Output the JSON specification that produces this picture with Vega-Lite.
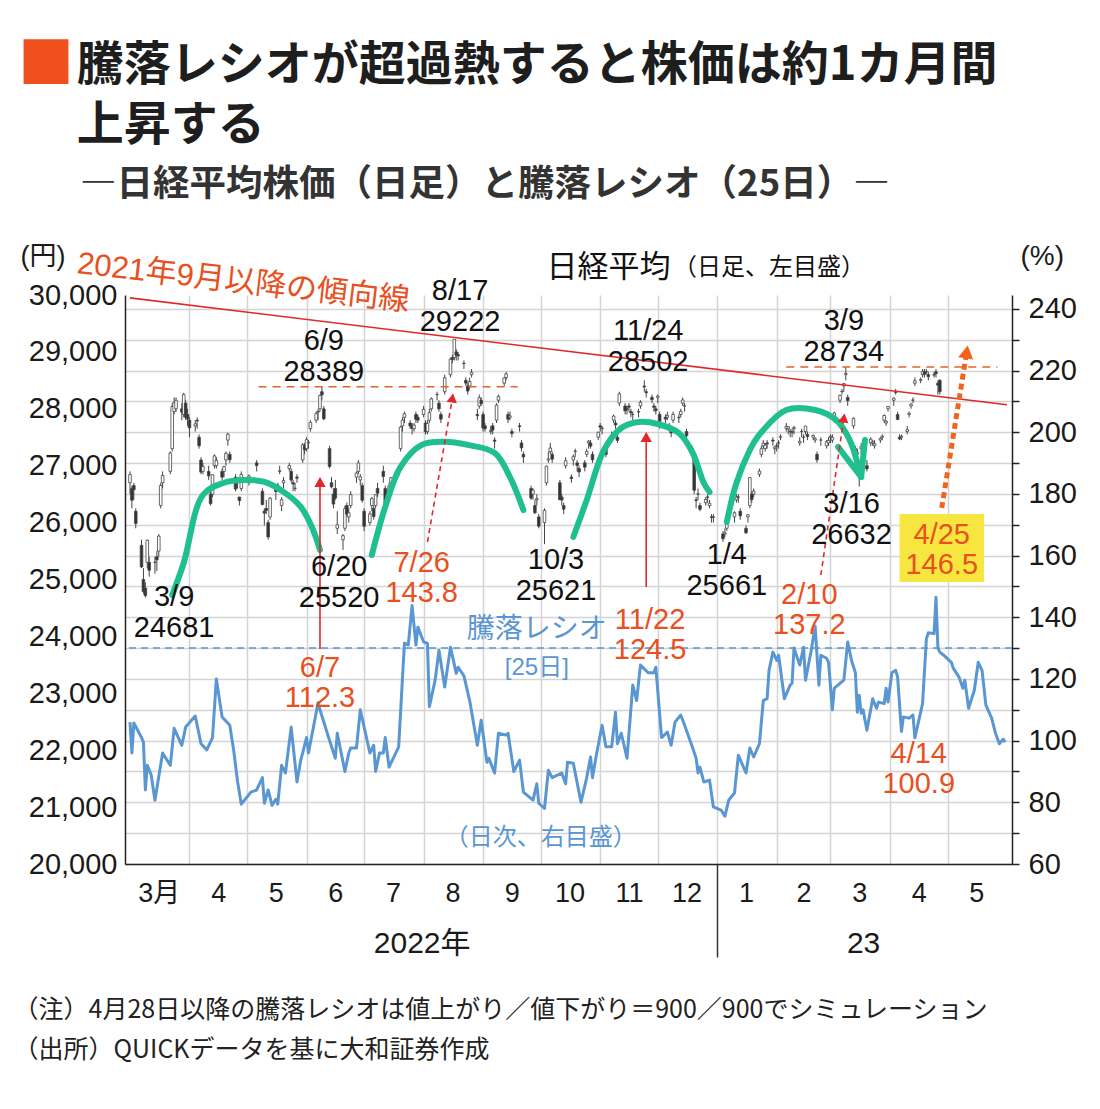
{
  "$schema": "https://vega.github.io/schema/vega-lite/v6.json",
  "width": 887,
  "height": 569,
  "autosize": {"type": "none"},
  "padding": {"left": 125, "top": 295, "right": 88, "bottom": 245},
  "background": "white",
  "config": {"view": {"stroke": null}, "font": "Liberation Sans, Noto Sans CJK JP"},
  "title": {
    "text": "■",
    "font": "Noto Sans CJK JP",
    "fontSize": 56,
    "fontWeight": "normal",
    "color": "#f0501e",
    "anchor": "start",
    "frame": "group",
    "dx": -107,
    "offset": 17,
    "subtitle": ["\u200B\u3000\u2005騰落レシオが超過熱すると株価は約1カ月間", "\u200B\u3000\u2005上昇する"],
    "subtitleFont": "Noto Sans CJK JP",
    "subtitleFontSize": 47,
    "subtitleFontWeight": "bold",
    "subtitleColor": "#1e1e1e",
    "subtitleLineHeight": 60,
    "subtitlePadding": -52
  },
  "resolve": {"scale": {"y": "independent"}, "axis": {"x": "independent", "y": "independent"}},
  "datasets": {
    "candles": [
      {"d":"2022-03-01","o":26700,"h":26900,"l":26500,"c":26844},
      {"d":"2022-03-02","o":26600,"h":26650,"l":26250,"c":26393},
      {"d":"2022-03-03","o":26650,"h":26700,"l":26400,"c":26577},
      {"d":"2022-03-04","o":26200,"h":26250,"l":25900,"c":25985},
      {"d":"2022-03-07","o":25600,"h":25700,"l":25200,"c":25221},
      {"d":"2022-03-08","o":25000,"h":25200,"l":24750,"c":24790},
      {"d":"2022-03-09","o":24850,"h":24950,"l":24681,"c":24717},
      {"d":"2022-03-10","o":25300,"h":25700,"l":25200,"c":25690},
      {"d":"2022-03-11","o":25300,"h":25400,"l":25050,"c":25163},
      {"d":"2022-03-14","o":25300,"h":25400,"l":25100,"c":25307},
      {"d":"2022-03-15","o":25400,"h":25500,"l":25150,"c":25346},
      {"d":"2022-03-16","o":25500,"h":25800,"l":25400,"c":25762},
      {"d":"2022-03-17","o":26300,"h":26700,"l":26250,"c":26652},
      {"d":"2022-03-18","o":26700,"h":26900,"l":26600,"c":26827},
      {"d":"2022-03-22","o":26900,"h":27250,"l":26850,"c":27224},
      {"d":"2022-03-23","o":27300,"h":28100,"l":27250,"c":28040},
      {"d":"2022-03-24","o":27950,"h":28200,"l":27900,"c":28110},
      {"d":"2022-03-25","o":28000,"h":28200,"l":27950,"c":28149},
      {"d":"2022-03-28","o":28000,"h":28100,"l":27800,"c":27943},
      {"d":"2022-03-29","o":27900,"h":28280,"l":27850,"c":28252},
      {"d":"2022-03-30","o":28100,"h":28150,"l":27800,"c":27850},
      {"d":"2022-03-31","o":27900,"h":28000,"l":27700,"c":27821},
      {"d":"2022-04-01","o":27800,"h":27850,"l":27500,"c":27665},
      {"d":"2022-04-04","o":27700,"h":27800,"l":27600,"c":27736},
      {"d":"2022-04-05","o":27800,"h":27850,"l":27650,"c":27787},
      {"d":"2022-04-06","o":27500,"h":27550,"l":27300,"c":27350},
      {"d":"2022-04-07","o":27100,"h":27150,"l":26850,"c":26888},
      {"d":"2022-04-08","o":26900,"h":27050,"l":26850,"c":26985},
      {"d":"2022-04-11","o":26900,"h":27000,"l":26750,"c":26821},
      {"d":"2022-04-12","o":26500,"h":26550,"l":26300,"c":26334},
      {"d":"2022-04-13","o":26500,"h":26850,"l":26450,"c":26843},
      {"d":"2022-04-14","o":27000,"h":27200,"l":26950,"c":27172},
      {"d":"2022-04-15","o":27000,"h":27150,"l":26950,"c":27093},
      {"d":"2022-04-18","o":26900,"h":26950,"l":26750,"c":26799},
      {"d":"2022-04-19","o":26900,"h":27000,"l":26800,"c":26985},
      {"d":"2022-04-20","o":27100,"h":27250,"l":27000,"c":27217},
      {"d":"2022-04-21","o":27450,"h":27580,"l":27350,"c":27553},
      {"d":"2022-04-22","o":27200,"h":27250,"l":27050,"c":27105},
      {"d":"2022-04-25","o":26800,"h":26850,"l":26550,"c":26590},
      {"d":"2022-04-26","o":26750,"h":26800,"l":26600,"c":26700},
      {"d":"2022-04-27","o":26450,"h":26450,"l":26300,"c":26386},
      {"d":"2022-04-28","o":26600,"h":26900,"l":26550,"c":26847},
      {"d":"2022-05-02","o":26700,"h":26850,"l":26650,"c":26818},
      {"d":"2022-05-06","o":27050,"h":27100,"l":26900,"c":27003},
      {"d":"2022-05-09","o":26550,"h":26600,"l":26300,"c":26319},
      {"d":"2022-05-10","o":26200,"h":26250,"l":25950,"c":26167},
      {"d":"2022-05-11","o":26250,"h":26400,"l":26150,"c":26213},
      {"d":"2022-05-12","o":26000,"h":26050,"l":25700,"c":25748},
      {"d":"2022-05-13","o":26100,"h":26450,"l":26050,"c":26427},
      {"d":"2022-05-16","o":26600,"h":26650,"l":26400,"c":26547},
      {"d":"2022-05-17","o":26650,"h":26700,"l":26550,"c":26659},
      {"d":"2022-05-18","o":26900,"h":27000,"l":26850,"c":26911},
      {"d":"2022-05-19","o":26300,"h":26450,"l":26200,"c":26402},
      {"d":"2022-05-20","o":26700,"h":26800,"l":26600,"c":26739},
      {"d":"2022-05-23","o":26950,"h":27050,"l":26900,"c":27001},
      {"d":"2022-05-24","o":26900,"h":26950,"l":26700,"c":26748},
      {"d":"2022-05-25","o":26700,"h":26750,"l":26550,"c":26677},
      {"d":"2022-05-26","o":26600,"h":26700,"l":26550,"c":26604},
      {"d":"2022-05-27","o":26800,"h":26850,"l":26700,"c":26781},
      {"d":"2022-05-30","o":27100,"h":27400,"l":27050,"c":27369},
      {"d":"2022-05-31","o":27350,"h":27400,"l":27200,"c":27279},
      {"d":"2022-06-01","o":27300,"h":27500,"l":27250,"c":27457},
      {"d":"2022-06-02","o":27400,"h":27450,"l":27300,"c":27413},
      {"d":"2022-06-03","o":27650,"h":27800,"l":27600,"c":27761},
      {"d":"2022-06-06","o":27800,"h":27950,"l":27750,"c":27915},
      {"d":"2022-06-07","o":27950,"h":28000,"l":27800,"c":27943},
      {"d":"2022-06-08","o":28000,"h":28250,"l":27950,"c":28234},
      {"d":"2022-06-09","o":28300,"h":28389,"l":28150,"c":28246},
      {"d":"2022-06-10","o":28000,"h":28050,"l":27800,"c":27824},
      {"d":"2022-06-13","o":27300,"h":27350,"l":26950,"c":26987},
      {"d":"2022-06-14","o":26700,"h":26800,"l":26600,"c":26629},
      {"d":"2022-06-15","o":26500,"h":26600,"l":26250,"c":26326},
      {"d":"2022-06-16","o":26600,"h":26750,"l":26400,"c":26431},
      {"d":"2022-06-17","o":25900,"h":26200,"l":25800,"c":25963},
      {"d":"2022-06-20","o":25700,"h":25800,"l":25520,"c":25771},
      {"d":"2022-06-21","o":25900,"h":26300,"l":25850,"c":26246},
      {"d":"2022-06-22","o":26300,"h":26350,"l":26100,"c":26149},
      {"d":"2022-06-23","o":26100,"h":26250,"l":26000,"c":26171},
      {"d":"2022-06-24","o":26300,"h":26550,"l":26250,"c":26491},
      {"d":"2022-06-27","o":26800,"h":26900,"l":26700,"c":26871},
      {"d":"2022-06-28","o":26900,"h":27100,"l":26850,"c":27049},
      {"d":"2022-06-29","o":26750,"h":26850,"l":26650,"c":26804},
      {"d":"2022-06-30","o":26650,"h":26700,"l":26350,"c":26393},
      {"d":"2022-07-01","o":26200,"h":26250,"l":25850,"c":25935},
      {"d":"2022-07-04","o":26000,"h":26200,"l":25950,"c":26153},
      {"d":"2022-07-05","o":26300,"h":26450,"l":26200,"c":26423},
      {"d":"2022-07-06","o":26250,"h":26300,"l":26050,"c":26107},
      {"d":"2022-07-07","o":26300,"h":26500,"l":26250,"c":26490},
      {"d":"2022-07-08","o":26600,"h":26700,"l":26450,"c":26517},
      {"d":"2022-07-11","o":26900,"h":27000,"l":26700,"c":26812},
      {"d":"2022-07-12","o":26600,"h":26650,"l":26300,"c":26336},
      {"d":"2022-07-13","o":26400,"h":26550,"l":26300,"c":26478},
      {"d":"2022-07-14","o":26500,"h":26700,"l":26400,"c":26643},
      {"d":"2022-07-15","o":26700,"h":26800,"l":26550,"c":26788},
      {"d":"2022-07-19","o":26900,"h":27000,"l":26800,"c":26961},
      {"d":"2022-07-20","o":27300,"h":27700,"l":27250,"c":27680},
      {"d":"2022-07-21","o":27700,"h":27850,"l":27600,"c":27803},
      {"d":"2022-07-22","o":27850,"h":27950,"l":27750,"c":27915},
      {"d":"2022-07-25","o":27750,"h":27800,"l":27650,"c":27699},
      {"d":"2022-07-26","o":27700,"h":27750,"l":27550,"c":27655},
      {"d":"2022-07-27","o":27650,"h":27750,"l":27600,"c":27715},
      {"d":"2022-07-28","o":27900,"h":27950,"l":27750,"c":27815},
      {"d":"2022-07-29","o":27850,"h":27900,"l":27750,"c":27801},
      {"d":"2022-08-01","o":27900,"h":28050,"l":27850,"c":27993},
      {"d":"2022-08-02","o":27750,"h":27800,"l":27550,"c":27594},
      {"d":"2022-08-03","o":27600,"h":27800,"l":27550,"c":27742},
      {"d":"2022-08-04","o":27800,"h":28000,"l":27750,"c":27932},
      {"d":"2022-08-05","o":28000,"h":28200,"l":27950,"c":28175},
      {"d":"2022-08-08","o":28250,"h":28300,"l":28150,"c":28249},
      {"d":"2022-08-09","o":28100,"h":28150,"l":27950,"c":27999},
      {"d":"2022-08-10","o":27900,"h":27950,"l":27750,"c":27819},
      {"d":"2022-08-12","o":28300,"h":28600,"l":28250,"c":28546},
      {"d":"2022-08-15","o":28600,"h":28900,"l":28550,"c":28871},
      {"d":"2022-08-16","o":28900,"h":28950,"l":28800,"c":28868},
      {"d":"2022-08-17","o":28900,"h":29222,"l":28850,"c":29222},
      {"d":"2022-08-18","o":29000,"h":29050,"l":28850,"c":28942},
      {"d":"2022-08-19","o":28950,"h":29000,"l":28850,"c":28930},
      {"d":"2022-08-22","o":28800,"h":28850,"l":28700,"c":28794},
      {"d":"2022-08-23","o":28500,"h":28550,"l":28400,"c":28452},
      {"d":"2022-08-24","o":28400,"h":28450,"l":28250,"c":28313},
      {"d":"2022-08-25","o":28400,"h":28550,"l":28350,"c":28479},
      {"d":"2022-08-26","o":28600,"h":28700,"l":28550,"c":28641},
      {"d":"2022-08-29","o":27900,"h":28000,"l":27800,"c":27878},
      {"d":"2022-08-30","o":28050,"h":28250,"l":28000,"c":28195},
      {"d":"2022-08-31","o":28150,"h":28200,"l":28050,"c":28091},
      {"d":"2022-09-01","o":27900,"h":27950,"l":27600,"c":27661},
      {"d":"2022-09-02","o":27700,"h":27750,"l":27600,"c":27650},
      {"d":"2022-09-05","o":27600,"h":27700,"l":27550,"c":27619},
      {"d":"2022-09-06","o":27700,"h":27750,"l":27550,"c":27626},
      {"d":"2022-09-07","o":27450,"h":27500,"l":27300,"c":27430},
      {"d":"2022-09-08","o":27800,"h":28100,"l":27750,"c":28065},
      {"d":"2022-09-09","o":28150,"h":28250,"l":28100,"c":28214},
      {"d":"2022-09-12","o":28450,"h":28550,"l":28400,"c":28542},
      {"d":"2022-09-13","o":28550,"h":28650,"l":28500,"c":28614},
      {"d":"2022-09-14","o":27900,"h":27950,"l":27750,"c":27818},
      {"d":"2022-09-15","o":27850,"h":27950,"l":27800,"c":27875},
      {"d":"2022-09-16","o":27600,"h":27650,"l":27500,"c":27567},
      {"d":"2022-09-20","o":27700,"h":27750,"l":27600,"c":27688},
      {"d":"2022-09-21","o":27400,"h":27450,"l":27250,"c":27313},
      {"d":"2022-09-22","o":27200,"h":27250,"l":27050,"c":27153},
      {"d":"2022-09-26","o":26600,"h":26650,"l":26400,"c":26431},
      {"d":"2022-09-27","o":26500,"h":26600,"l":26400,"c":26571},
      {"d":"2022-09-28","o":26300,"h":26400,"l":26150,"c":26173},
      {"d":"2022-09-29","o":26400,"h":26500,"l":26300,"c":26422},
      {"d":"2022-09-30","o":26100,"h":26150,"l":25900,"c":25937},
      {"d":"2022-10-03","o":26000,"h":26250,"l":25621,"c":26215},
      {"d":"2022-10-04","o":26700,"h":27000,"l":26650,"c":26992},
      {"d":"2022-10-05","o":27100,"h":27250,"l":27050,"c":27120},
      {"d":"2022-10-06","o":27250,"h":27400,"l":27200,"c":27311},
      {"d":"2022-10-07","o":27200,"h":27250,"l":27050,"c":27116},
      {"d":"2022-10-11","o":26700,"h":26750,"l":26400,"c":26401},
      {"d":"2022-10-12","o":26450,"h":26500,"l":26300,"c":26397},
      {"d":"2022-10-13","o":26300,"h":26350,"l":26150,"c":26237},
      {"d":"2022-10-14","o":27000,"h":27150,"l":26950,"c":27090},
      {"d":"2022-10-17","o":26800,"h":26850,"l":26700,"c":26775},
      {"d":"2022-10-18","o":27100,"h":27200,"l":27000,"c":27156},
      {"d":"2022-10-19","o":27250,"h":27300,"l":27150,"c":27257},
      {"d":"2022-10-20","o":27050,"h":27100,"l":26900,"c":27006},
      {"d":"2022-10-21","o":26950,"h":27000,"l":26800,"c":26890},
      {"d":"2022-10-24","o":27050,"h":27100,"l":26900,"c":26974},
      {"d":"2022-10-25","o":27200,"h":27300,"l":27150,"c":27250},
      {"d":"2022-10-26","o":27400,"h":27450,"l":27300,"c":27431},
      {"d":"2022-10-27","o":27400,"h":27450,"l":27300,"c":27345},
      {"d":"2022-10-28","o":27200,"h":27250,"l":27050,"c":27105},
      {"d":"2022-10-31","o":27500,"h":27600,"l":27450,"c":27587},
      {"d":"2022-11-01","o":27700,"h":27750,"l":27600,"c":27678},
      {"d":"2022-11-02","o":27650,"h":27700,"l":27550,"c":27663},
      {"d":"2022-11-04","o":27300,"h":27350,"l":27150,"c":27199},
      {"d":"2022-11-07","o":27500,"h":27600,"l":27400,"c":27527},
      {"d":"2022-11-08","o":27800,"h":27900,"l":27750,"c":27872},
      {"d":"2022-11-09","o":27750,"h":27800,"l":27650,"c":27716},
      {"d":"2022-11-10","o":27500,"h":27550,"l":27400,"c":27446},
      {"d":"2022-11-11","o":28100,"h":28300,"l":28050,"c":28263},
      {"d":"2022-11-14","o":28050,"h":28100,"l":27900,"c":27963},
      {"d":"2022-11-15","o":28000,"h":28050,"l":27900,"c":27990},
      {"d":"2022-11-16","o":28050,"h":28100,"l":27950,"c":28028},
      {"d":"2022-11-17","o":27950,"h":28000,"l":27850,"c":27930},
      {"d":"2022-11-18","o":27900,"h":27950,"l":27800,"c":27899},
      {"d":"2022-11-21","o":27950,"h":28000,"l":27850,"c":27944},
      {"d":"2022-11-22","o":28050,"h":28150,"l":28000,"c":28115},
      {"d":"2022-11-24","o":28400,"h":28502,"l":28300,"c":28383},
      {"d":"2022-11-25","o":28300,"h":28350,"l":28200,"c":28283},
      {"d":"2022-11-28","o":28200,"h":28250,"l":28100,"c":28162},
      {"d":"2022-11-29","o":28050,"h":28100,"l":27950,"c":28027},
      {"d":"2022-11-30","o":28000,"h":28050,"l":27900,"c":27968},
      {"d":"2022-12-01","o":28200,"h":28250,"l":28100,"c":28226},
      {"d":"2022-12-02","o":27900,"h":27950,"l":27650,"c":27777},
      {"d":"2022-12-05","o":27850,"h":27900,"l":27750,"c":27820},
      {"d":"2022-12-06","o":27850,"h":27950,"l":27800,"c":27885},
      {"d":"2022-12-07","o":27700,"h":27750,"l":27600,"c":27686},
      {"d":"2022-12-08","o":27600,"h":27650,"l":27500,"c":27574},
      {"d":"2022-12-09","o":27800,"h":27950,"l":27750,"c":27901},
      {"d":"2022-12-12","o":27850,"h":27900,"l":27750,"c":27842},
      {"d":"2022-12-13","o":27900,"h":28000,"l":27850,"c":27954},
      {"d":"2022-12-14","o":28100,"h":28200,"l":28050,"c":28156},
      {"d":"2022-12-15","o":28050,"h":28100,"l":27950,"c":28051},
      {"d":"2022-12-16","o":27600,"h":27650,"l":27450,"c":27527},
      {"d":"2022-12-19","o":27300,"h":27350,"l":27150,"c":27237},
      {"d":"2022-12-20","o":27200,"h":27250,"l":26500,"c":26568},
      {"d":"2022-12-21","o":26400,"h":26450,"l":26250,"c":26387},
      {"d":"2022-12-22","o":26500,"h":26600,"l":26400,"c":26507},
      {"d":"2022-12-23","o":26300,"h":26350,"l":26200,"c":26235},
      {"d":"2022-12-26","o":26350,"h":26450,"l":26300,"c":26405},
      {"d":"2022-12-27","o":26450,"h":26500,"l":26350,"c":26447},
      {"d":"2022-12-28","o":26300,"h":26400,"l":26250,"c":26340},
      {"d":"2022-12-29","o":26100,"h":26150,"l":26000,"c":26093},
      {"d":"2022-12-30","o":26100,"h":26150,"l":26000,"c":26094},
      {"d":"2023-01-04","o":25800,"h":25850,"l":25661,"c":25716},
      {"d":"2023-01-05","o":25800,"h":25900,"l":25750,"c":25820},
      {"d":"2023-01-06","o":25900,"h":26000,"l":25850,"c":25973},
      {"d":"2023-01-10","o":26100,"h":26200,"l":26000,"c":26175},
      {"d":"2023-01-11","o":26400,"h":26500,"l":26350,"c":26446},
      {"d":"2023-01-12","o":26450,"h":26500,"l":26350,"c":26449},
      {"d":"2023-01-13","o":26200,"h":26250,"l":26050,"c":26119},
      {"d":"2023-01-16","o":25900,"h":25950,"l":25800,"c":25822},
      {"d":"2023-01-17","o":26100,"h":26150,"l":26000,"c":26138},
      {"d":"2023-01-18","o":26300,"h":26800,"l":26250,"c":26791},
      {"d":"2023-01-19","o":26500,"h":26550,"l":26350,"c":26405},
      {"d":"2023-01-20","o":26500,"h":26600,"l":26450,"c":26553},
      {"d":"2023-01-23","o":26850,"h":26950,"l":26800,"c":26906},
      {"d":"2023-01-24","o":27200,"h":27350,"l":27150,"c":27299},
      {"d":"2023-01-25","o":27350,"h":27450,"l":27300,"c":27395},
      {"d":"2023-01-26","o":27300,"h":27400,"l":27250,"c":27362},
      {"d":"2023-01-27","o":27400,"h":27450,"l":27300,"c":27382},
      {"d":"2023-01-30","o":27450,"h":27500,"l":27350,"c":27433},
      {"d":"2023-01-31","o":27300,"h":27350,"l":27200,"c":27327},
      {"d":"2023-02-01","o":27350,"h":27400,"l":27250,"c":27346},
      {"d":"2023-02-02","o":27400,"h":27450,"l":27300,"c":27402},
      {"d":"2023-02-03","o":27500,"h":27550,"l":27450,"c":27509},
      {"d":"2023-02-06","o":27650,"h":27750,"l":27600,"c":27693},
      {"d":"2023-02-07","o":27650,"h":27700,"l":27550,"c":27685},
      {"d":"2023-02-08","o":27600,"h":27650,"l":27500,"c":27606},
      {"d":"2023-02-09","o":27600,"h":27650,"l":27500,"c":27584},
      {"d":"2023-02-10","o":27650,"h":27700,"l":27550,"c":27670},
      {"d":"2023-02-13","o":27400,"h":27500,"l":27350,"c":27427},
      {"d":"2023-02-14","o":27600,"h":27650,"l":27500,"c":27602},
      {"d":"2023-02-15","o":27500,"h":27550,"l":27400,"c":27501},
      {"d":"2023-02-16","o":27600,"h":27700,"l":27550,"c":27696},
      {"d":"2023-02-17","o":27550,"h":27600,"l":27450,"c":27513},
      {"d":"2023-02-20","o":27500,"h":27550,"l":27450,"c":27531},
      {"d":"2023-02-21","o":27450,"h":27500,"l":27400,"c":27473},
      {"d":"2023-02-22","o":27200,"h":27250,"l":27050,"c":27104},
      {"d":"2023-02-24","o":27450,"h":27500,"l":27350,"c":27453},
      {"d":"2023-02-27","o":27350,"h":27450,"l":27300,"c":27423},
      {"d":"2023-02-28","o":27400,"h":27500,"l":27350,"c":27445},
      {"d":"2023-03-01","o":27500,"h":27550,"l":27400,"c":27516},
      {"d":"2023-03-02","o":27450,"h":27550,"l":27400,"c":27498},
      {"d":"2023-03-03","o":27800,"h":27950,"l":27750,"c":27927},
      {"d":"2023-03-06","o":28150,"h":28250,"l":28100,"c":28237},
      {"d":"2023-03-07","o":28300,"h":28350,"l":28250,"c":28309},
      {"d":"2023-03-08","o":28400,"h":28450,"l":28300,"c":28444},
      {"d":"2023-03-09","o":28600,"h":28734,"l":28500,"c":28623},
      {"d":"2023-03-10","o":28200,"h":28250,"l":28050,"c":28143},
      {"d":"2023-03-13","o":27700,"h":27850,"l":27650,"c":27832},
      {"d":"2023-03-14","o":27300,"h":27350,"l":27000,"c":27222},
      {"d":"2023-03-15","o":27200,"h":27300,"l":27100,"c":27229},
      {"d":"2023-03-16","o":26900,"h":27050,"l":26632,"c":27010},
      {"d":"2023-03-17","o":27300,"h":27400,"l":27200,"c":27333},
      {"d":"2023-03-20","o":27000,"h":27100,"l":26900,"c":26945},
      {"d":"2023-03-22","o":27400,"h":27500,"l":27350,"c":27466},
      {"d":"2023-03-23","o":27400,"h":27450,"l":27350,"c":27419},
      {"d":"2023-03-24","o":27350,"h":27450,"l":27300,"c":27385},
      {"d":"2023-03-27","o":27450,"h":27500,"l":27400,"c":27476},
      {"d":"2023-03-28","o":27500,"h":27550,"l":27450,"c":27518},
      {"d":"2023-03-29","o":27800,"h":27900,"l":27750,"c":27883},
      {"d":"2023-03-30","o":27750,"h":27800,"l":27700,"c":27782},
      {"d":"2023-03-31","o":28000,"h":28050,"l":27950,"c":28041},
      {"d":"2023-04-03","o":28150,"h":28200,"l":28050,"c":28188},
      {"d":"2023-04-04","o":28300,"h":28350,"l":28250,"c":28287},
      {"d":"2023-04-05","o":27900,"h":27950,"l":27800,"c":27813},
      {"d":"2023-04-06","o":27500,"h":27550,"l":27450,"c":27472},
      {"d":"2023-04-07","o":27500,"h":27550,"l":27450,"c":27518},
      {"d":"2023-04-10","o":27600,"h":27700,"l":27550,"c":27633},
      {"d":"2023-04-11","o":27900,"h":27950,"l":27850,"c":27923},
      {"d":"2023-04-12","o":28050,"h":28100,"l":28000,"c":28082},
      {"d":"2023-04-13","o":28150,"h":28200,"l":28100,"c":28156},
      {"d":"2023-04-14","o":28450,"h":28550,"l":28400,"c":28493},
      {"d":"2023-04-17","o":28500,"h":28550,"l":28450,"c":28514},
      {"d":"2023-04-18","o":28600,"h":28700,"l":28550,"c":28658},
      {"d":"2023-04-19","o":28650,"h":28700,"l":28550,"c":28606},
      {"d":"2023-04-20","o":28650,"h":28700,"l":28600,"c":28657},
      {"d":"2023-04-21","o":28600,"h":28650,"l":28500,"c":28564},
      {"d":"2023-04-24","o":28600,"h":28650,"l":28550,"c":28593},
      {"d":"2023-04-25","o":28650,"h":28700,"l":28550,"c":28620},
      {"d":"2023-04-26","o":28450,"h":28500,"l":28250,"c":28416},
      {"d":"2023-04-27","o":28500,"h":28520,"l":28250,"c":28300}
    ],
    "ratio": [
      {"d":"2022-03-01","v":106},{"d":"2022-03-02","v":96},{"d":"2022-03-03","v":105.7},{"d":"2022-03-07","v":101},
      {"d":"2022-03-08","v":99.5},{"d":"2022-03-09","v":84},{"d":"2022-03-10","v":92},{"d":"2022-03-12","v":89},
      {"d":"2022-03-14","v":80.7},{"d":"2022-03-18","v":96},{"d":"2022-03-22","v":92},{"d":"2022-03-24","v":104},
      {"d":"2022-03-28","v":98.5},{"d":"2022-03-30","v":104.4},{"d":"2022-04-04","v":108},{"d":"2022-04-07","v":99},
      {"d":"2022-04-10","v":97},{"d":"2022-04-13","v":101},{"d":"2022-04-15","v":120},{"d":"2022-04-18","v":107.7},
      {"d":"2022-04-22","v":105},{"d":"2022-04-24","v":97},{"d":"2022-04-26","v":87},{"d":"2022-04-28","v":79.4},
      {"d":"2022-05-03","v":83.3},{"d":"2022-05-06","v":84},{"d":"2022-05-09","v":88},{"d":"2022-05-10","v":79.7},
      {"d":"2022-05-12","v":84},{"d":"2022-05-14","v":79},{"d":"2022-05-16","v":81},{"d":"2022-05-17","v":79.4},
      {"d":"2022-05-19","v":92},{"d":"2022-05-21","v":89.5},{"d":"2022-05-24","v":104.4},{"d":"2022-05-27","v":86.6},
      {"d":"2022-05-29","v":93.7},{"d":"2022-06-01","v":101},{"d":"2022-06-02","v":96},{"d":"2022-06-07","v":112.3},
      {"d":"2022-06-08","v":110},{"d":"2022-06-13","v":100},{"d":"2022-06-16","v":94.3},{"d":"2022-06-17","v":102.4},
      {"d":"2022-06-21","v":90},{"d":"2022-06-23","v":96},{"d":"2022-06-24","v":97.6},{"d":"2022-06-27","v":97.6},
      {"d":"2022-06-29","v":110},{"d":"2022-07-04","v":96},{"d":"2022-07-06","v":98.5},{"d":"2022-07-07","v":90},
      {"d":"2022-07-09","v":96},{"d":"2022-07-11","v":96},{"d":"2022-07-12","v":101},{"d":"2022-07-14","v":91.4},
      {"d":"2022-07-19","v":98},{"d":"2022-07-22","v":131.6},{"d":"2022-07-24","v":131},{"d":"2022-07-26","v":143.8},
      {"d":"2022-07-28","v":131},{"d":"2022-07-29","v":136.8},{"d":"2022-08-01","v":132},{"d":"2022-08-03","v":131.5},
      {"d":"2022-08-04","v":111},{"d":"2022-08-07","v":119.6},{"d":"2022-08-09","v":129.3},{"d":"2022-08-12","v":117.4},
      {"d":"2022-08-15","v":130.3},{"d":"2022-08-18","v":121.8},{"d":"2022-08-19","v":123.8},{"d":"2022-08-22","v":121},
      {"d":"2022-08-25","v":113},{"d":"2022-08-29","v":98.5},{"d":"2022-08-31","v":106.6},{"d":"2022-09-03","v":93},
      {"d":"2022-09-04","v":94.3},{"d":"2022-09-07","v":89.5},{"d":"2022-09-09","v":102.4},{"d":"2022-09-13","v":101.8},
      {"d":"2022-09-14","v":102.4},{"d":"2022-09-17","v":90},{"d":"2022-09-20","v":93.7},{"d":"2022-09-22","v":83.3},
      {"d":"2022-09-27","v":80.7},{"d":"2022-09-29","v":86},{"d":"2022-09-30","v":79.7},{"d":"2022-10-03","v":78},
      {"d":"2022-10-05","v":90.4},{"d":"2022-10-07","v":88},{"d":"2022-10-12","v":89.5},{"d":"2022-10-14","v":86},
      {"d":"2022-10-15","v":93},{"d":"2022-10-18","v":92.7},{"d":"2022-10-22","v":80},{"d":"2022-10-25","v":88},
      {"d":"2022-10-27","v":94.7},{"d":"2022-10-28","v":88},{"d":"2022-10-30","v":95.3},{"d":"2022-11-02","v":105},
      {"d":"2022-11-04","v":98},{"d":"2022-11-07","v":98},{"d":"2022-11-09","v":109.2},{"d":"2022-11-10","v":99},
      {"d":"2022-11-12","v":102.4},{"d":"2022-11-15","v":94.3},{"d":"2022-11-18","v":118},{"d":"2022-11-20","v":113},
      {"d":"2022-11-22","v":124.5},{"d":"2022-11-26","v":122},{"d":"2022-11-29","v":122},{"d":"2022-11-30","v":123.8},
      {"d":"2022-12-03","v":101},{"d":"2022-12-06","v":102.8},{"d":"2022-12-08","v":98.5},{"d":"2022-12-10","v":106},
      {"d":"2022-12-13","v":108.3},{"d":"2022-12-15","v":105},{"d":"2022-12-19","v":98},{"d":"2022-12-21","v":94.3},
      {"d":"2022-12-22","v":89.5},{"d":"2022-12-23","v":91.4},{"d":"2022-12-25","v":86.6},{"d":"2022-12-28","v":87.2},
      {"d":"2022-12-30","v":78.5},{"d":"2023-01-03","v":77.5},{"d":"2023-01-05","v":75.5},{"d":"2023-01-07","v":80.7},
      {"d":"2023-01-10","v":83},{"d":"2023-01-12","v":95.3},{"d":"2023-01-16","v":89.5},{"d":"2023-01-18","v":97.6},
      {"d":"2023-01-20","v":94.7},{"d":"2023-01-23","v":99},{"d":"2023-01-25","v":113},{"d":"2023-01-27","v":113.6},
      {"d":"2023-01-28","v":122.8},{"d":"2023-01-30","v":128.7},{"d":"2023-02-01","v":126},{"d":"2023-02-02","v":127.7},
      {"d":"2023-02-05","v":113.6},{"d":"2023-02-08","v":118},{"d":"2023-02-09","v":118.6},{"d":"2023-02-10","v":130},
      {"d":"2023-02-13","v":124.5},{"d":"2023-02-15","v":130.3},{"d":"2023-02-16","v":119.6},{"d":"2023-02-19","v":129.3},
      {"d":"2023-02-21","v":137.2},{"d":"2023-02-23","v":118},{"d":"2023-02-24","v":127.7},{"d":"2023-02-27","v":126.7},
      {"d":"2023-02-28","v":125.4},{"d":"2023-03-02","v":110},{"d":"2023-03-03","v":117},{"d":"2023-03-06","v":118.6},
      {"d":"2023-03-08","v":119.6},{"d":"2023-03-10","v":132},{"d":"2023-03-12","v":126},{"d":"2023-03-14","v":122},
      {"d":"2023-03-15","v":109.2},{"d":"2023-03-16","v":114.7},{"d":"2023-03-17","v":108.9},{"d":"2023-03-18","v":110},
      {"d":"2023-03-20","v":103.4},{"d":"2023-03-23","v":113.6},{"d":"2023-03-25","v":110.5},{"d":"2023-03-26","v":112.5},
      {"d":"2023-03-29","v":112},{"d":"2023-03-30","v":117},{"d":"2023-03-31","v":112.5},{"d":"2023-04-02","v":122},
      {"d":"2023-04-04","v":122.8},{"d":"2023-04-05","v":120.6},{"d":"2023-04-07","v":103},{"d":"2023-04-08","v":107.7},
      {"d":"2023-04-11","v":107.3},{"d":"2023-04-13","v":108.3},{"d":"2023-04-14","v":100.9},{"d":"2023-04-18","v":112},
      {"d":"2023-04-20","v":133},{"d":"2023-04-21","v":135},{"d":"2023-04-24","v":134.7},{"d":"2023-04-25","v":146.5},
      {"d":"2023-04-26","v":130},{"d":"2023-04-27","v":128.7},{"d":"2023-04-29","v":127.7},{"d":"2023-05-03","v":125.4},
      {"d":"2023-05-04","v":123.5},{"d":"2023-05-07","v":120.6},{"d":"2023-05-09","v":117},{"d":"2023-05-10","v":119.6},
      {"d":"2023-05-12","v":110.5},{"d":"2023-05-15","v":116.4},{"d":"2023-05-17","v":125.4},{"d":"2023-05-19","v":122.8},
      {"d":"2023-05-21","v":111.5},{"d":"2023-05-24","v":107.3},{"d":"2023-05-26","v":102.4},{"d":"2023-05-28","v":99},
      {"d":"2023-05-30","v":100.5},{"d":"2023-05-31","v":99.5}
    ],
    "arcs": [
      {"g":"a1","d":"2022-03-23","v":24728},{"g":"a1","d":"2022-03-29","v":25290},{"g":"a1","d":"2022-04-08","v":26485},
      {"g":"a1","d":"2022-04-19","v":26700},{"g":"a1","d":"2022-04-29","v":26750},{"g":"a1","d":"2022-05-10","v":26715},
      {"g":"a1","d":"2022-05-20","v":26540},{"g":"a1","d":"2022-05-29","v":26275},{"g":"a1","d":"2022-06-04","v":25905},
      {"g":"a1","d":"2022-06-08","v":25520},
      {"g":"a2","d":"2022-07-05","v":25430},{"g":"a2","d":"2022-07-12","v":26275},{"g":"a2","d":"2022-07-20","v":26980},
      {"g":"a2","d":"2022-07-31","v":27365},{"g":"a2","d":"2022-08-12","v":27420},{"g":"a2","d":"2022-08-24","v":27365},
      {"g":"a2","d":"2022-09-07","v":27225},{"g":"a2","d":"2022-09-15","v":26800},{"g":"a2","d":"2022-09-22","v":26220},
      {"g":"a3","d":"2022-10-18","v":25747},{"g":"a3","d":"2022-10-25","v":26397},{"g":"a3","d":"2022-11-03","v":27276},
      {"g":"a3","d":"2022-11-12","v":27663},{"g":"a3","d":"2022-11-21","v":27768},{"g":"a3","d":"2022-12-01","v":27733},
      {"g":"a3","d":"2022-12-12","v":27575},{"g":"a3","d":"2022-12-19","v":27241},{"g":"a3","d":"2022-12-25","v":26696},
      {"g":"a3","d":"2022-12-28","v":26538},
      {"g":"a4","d":"2023-01-06","v":26011},{"g":"a4","d":"2023-01-11","v":26696},{"g":"a4","d":"2023-01-18","v":27276},
      {"g":"a4","d":"2023-01-22","v":27504},{"g":"a4","d":"2023-02-06","v":27979},{"g":"a4","d":"2023-02-21","v":27979},
      {"g":"a4","d":"2023-03-04","v":27803},{"g":"a4","d":"2023-03-11","v":27452},{"g":"a4","d":"2023-03-17","v":26801},
      {"g":"h1","d":"2023-03-05","v":27329},{"g":"h1","d":"2023-03-17","v":26801},
      {"g":"h2","d":"2023-03-17","v":26801},{"g":"h2","d":"2023-03-19","v":27452}
    ]
  },
  "layer": [
    {
      "data": {"values": [{"d":"2023-04-06","d2":"2023-05-20","v":24956,"v2":26151}]},
      "mark": {"type": "rect", "color": "#f8e640"},
      "encoding": {
        "x": {"field": "d", "type": "temporal", "axis": null, "scale": {"type": "utc", "domain": [{"year":2022,"month":3,"date":1,"utc":true},{"year":2023,"month":6,"date":1,"utc":true}]}},
        "x2": {"field": "d2"},
        "y": {"field": "v", "type": "quantitative", "axis": null, "scale": {"domain": [20000, 30000], "nice": false, "zero": false}},
        "y2": {"field": "v2"}
      }
    },
    {
      "data": {"values": [{}]},
      "mark": {"type": "rule", "color": "#5a96d2", "strokeDash": [7, 5], "strokeWidth": 1.5},
      "encoding": {
        "y": {"datum": 130, "type": "quantitative", "axis": null, "scale": {"domain": [60, 244.5], "nice": false, "zero": false}}
      }
    },
    {
      "data": {"name": "ratio"},
      "mark": {"type": "line", "color": "#5a96d2", "strokeWidth": 3, "strokeJoin": "round"},
      "encoding": {
        "x": {"field": "d", "type": "temporal", "axis": null, "scale": {"type": "utc", "domain": [{"year":2022,"month":3,"date":1,"utc":true},{"year":2023,"month":6,"date":1,"utc":true}]}},
        "y": {"field": "v", "type": "quantitative", "scale": {"domain": [60, 244.5], "nice": false, "zero": false},
          "axis": {"orient": "right", "values": [60,70,80,90,100,110,120,130,140,150,160,170,180,190,200,210,220,230,240],
            "labelExpr": "datum.value % 20 == 0 ? datum.label : ''", "tickSize": 7, "tickColor": "#222", "tickWidth": 1.5,
            "domainColor": "#222", "domainWidth": 1.5, "grid": true, "gridColor": "#d4d4d4", "gridWidth": 1.5,
            "labelFontSize": 29, "labelColor": "#1a1a1a", "labelPadding": 9,
            "title": "(%)", "titleAngle": 0, "titleX": 8, "titleY": -39, "titleAlign": "left", "titleBaseline": "middle",
            "titleFontSize": 28, "titleFontWeight": "normal", "titleColor": "#1a1a1a"}}
      }
    },
    {
      "data": {"name": "candles"},
      "mark": {"type": "rule", "color": "#444", "strokeWidth": 1},
      "encoding": {
        "x": {"field": "d", "type": "temporal", "scale": {"type": "utc", "domain": [{"year":2022,"month":3,"date":1,"utc":true},{"year":2023,"month":6,"date":1,"utc":true}]},
          "axis": {"orient": "bottom", "values": [
            {"year":2022,"month":3,"date":16,"utc":true},{"year":2022,"month":4,"date":16,"utc":true},{"year":2022,"month":5,"date":16,"utc":true},
            {"year":2022,"month":6,"date":16,"utc":true},{"year":2022,"month":7,"date":16,"utc":true},{"year":2022,"month":8,"date":16,"utc":true},
            {"year":2022,"month":9,"date":16,"utc":true},{"year":2022,"month":10,"date":16,"utc":true},{"year":2022,"month":11,"date":16,"utc":true},
            {"year":2022,"month":12,"date":16,"utc":true},{"year":2023,"month":1,"date":16,"utc":true},{"year":2023,"month":2,"date":15,"utc":true},
            {"year":2023,"month":3,"date":16,"utc":true},{"year":2023,"month":4,"date":16,"utc":true},{"year":2023,"month":5,"date":16,"utc":true}],
            "labelExpr": "utcyear(datum.value) == 2022 && utcmonth(datum.value) == 2 ? '3月' : '' + (utcmonth(datum.value) + 1)",
            "ticks": false, "tickSize": 0, "grid": false, "domain": true, "domainColor": "#222", "domainWidth": 1.5,
            "labelFontSize": 27, "labelColor": "#1a1a1a", "labelPadding": 29, "labelBaseline": "middle",
            "labelFlush": false, "labelOverlap": false, "labelBound": false, "title": null}},
        "y": {"field": "l", "type": "quantitative", "scale": {"domain": [20000, 30000], "nice": false, "zero": false},
          "axis": {"orient": "left", "values": [20000,21000,22000,23000,24000,25000,26000,27000,28000,29000,30000],
            "format": ",.0f", "ticks": false, "tickSize": 0, "grid": false, "domainColor": "#222", "domainWidth": 1.5,
            "labelFontSize": 29, "labelColor": "#1a1a1a", "labelPadding": 8,
            "title": "(円)", "titleAngle": 0, "titleX": -105, "titleY": -39, "titleAlign": "left", "titleBaseline": "middle",
            "titleFontSize": 27, "titleFontWeight": "normal", "titleColor": "#1a1a1a"}},
        "y2": {"field": "h"}
      }
    },
    {
      "data": {"name": "candles"},
      "mark": {"type": "bar", "size": 2.6, "stroke": "#444", "strokeWidth": 0.8},
      "encoding": {
        "x": {"field": "d", "type": "temporal",
          "axis": {"orient": "bottom", "values": [
            {"year":2022,"month":4,"date":1,"utc":true},{"year":2022,"month":5,"date":1,"utc":true},{"year":2022,"month":6,"date":1,"utc":true},
            {"year":2022,"month":7,"date":1,"utc":true},{"year":2022,"month":8,"date":1,"utc":true},{"year":2022,"month":9,"date":1,"utc":true},
            {"year":2022,"month":10,"date":1,"utc":true},{"year":2022,"month":11,"date":1,"utc":true},{"year":2022,"month":12,"date":1,"utc":true},
            {"year":2023,"month":1,"date":1,"utc":true},{"year":2023,"month":2,"date":1,"utc":true},{"year":2023,"month":3,"date":1,"utc":true},
            {"year":2023,"month":4,"date":1,"utc":true},{"year":2023,"month":5,"date":1,"utc":true}],
            "grid": true, "gridColor": "#d4d4d4", "gridWidth": 1.5, "labels": false, "ticks": false, "domain": false, "title": null}},
        "y": {"field": "o", "type": "quantitative", "axis": null, "scale": {"domain": [20000, 30000], "nice": false, "zero": false}},
        "y2": {"field": "c"},
        "fill": {"condition": {"test": "datum.c >= datum.o", "value": "white"}, "value": "#333"}
      }
    },
    {
      "data": {"values": [{"d":"2022-03-01","v":29950,"d2":"2023-06-01","v2":28070}]},
      "mark": {"type": "rule", "color": "#e0282a", "strokeWidth": 1.6},
      "encoding": {
        "x": {"field": "d", "type": "temporal",
          "axis": {"orient": "bottom", "values": [{"year":2022,"month":7,"date":31,"utc":true},{"year":2023,"month":3,"date":18,"utc":true}],
            "labelExpr": "utcyear(datum.value) == 2022 ? '2022年' : '23'",
            "ticks": false, "tickSize": 0, "domain": false, "grid": false,
            "labelFontSize": 30, "labelColor": "#1a1a1a", "labelPadding": 79, "labelBaseline": "middle",
            "labelFlush": false, "labelOverlap": false, "labelBound": false,
            "title": ["（注）4月28日以降の騰落レシオは値上がり／値下がり＝900／900でシミュレーション", "（出所）QUICKデータを基に大和証券作成"],
            "titleX": -112, "titleY": 133, "titleAlign": "left", "titleAnchor": "start", "titleBaseline": "top",
            "titleFontSize": 25, "titleFontWeight": "normal", "titleLineHeight": 40, "titleColor": "#222",
            "titleFont": "Noto Sans CJK JP"}},
        "x2": {"field": "d2"},
        "y": {"field": "v", "type": "quantitative", "axis": null, "scale": {"domain": [20000, 30000], "nice": false, "zero": false}},
        "y2": {"field": "v2"}
      }
    },
    {
      "data": {"values": [{"d":"2022-05-07","d2":"2022-09-19","v":28389},{"d":"2023-02-06","d2":"2023-05-27","v":28734}]},
      "mark": {"type": "rule", "color": "#e8602a", "strokeWidth": 1.5, "strokeDash": [8, 6]},
      "encoding": {
        "x": {"field": "d", "type": "temporal",
          "axis": {"orient": "bottom", "values": [{"year":2023,"month":1,"date":1,"utc":true}],
            "ticks": true, "tickSize": 93, "tickColor": "#333", "tickWidth": 1.5, "labels": false, "domain": false, "grid": false, "title": null}},
        "x2": {"field": "d2"},
        "y": {"field": "v", "type": "quantitative", "axis": null, "scale": {"domain": [20000, 30000], "nice": false, "zero": false}}
      }
    },
    {
      "data": {"name": "arcs"},
      "mark": {"type": "line", "color": "#1fbf8f", "strokeWidth": 6, "strokeCap": "round", "strokeJoin": "round", "interpolate": "catmull-rom"},
      "encoding": {
        "x": {"field": "d", "type": "temporal", "axis": null},
        "y": {"field": "v", "type": "quantitative", "axis": null, "scale": {"domain": [20000, 30000], "nice": false, "zero": false}},
        "detail": {"field": "g"}
      }
    },
    {
      "data": {"values": [{"d":"2022-06-08","v":23778,"v2":26714},{"d":"2022-11-25","v":24868,"v2":27504}]},
      "mark": {"type": "rule", "color": "#e0282a", "strokeWidth": 1.6},
      "encoding": {
        "x": {"field": "d", "type": "temporal", "axis": null},
        "y": {"field": "v", "type": "quantitative", "axis": null, "scale": {"domain": [20000, 30000], "nice": false, "zero": false}},
        "y2": {"field": "v2"}
      }
    },
    {
      "data": {"values": [{"d":"2022-08-03","v":25659,"d2":"2022-08-16","v2":28190},{"d":"2023-02-24","v":25079,"d2":"2023-03-08","v2":27838}]},
      "mark": {"type": "rule", "color": "#e0282a", "strokeWidth": 1.6, "strokeDash": [5, 4]},
      "encoding": {
        "x": {"field": "d", "type": "temporal", "axis": null},
        "x2": {"field": "d2"},
        "y": {"field": "v", "type": "quantitative", "axis": null, "scale": {"domain": [20000, 30000], "nice": false, "zero": false}},
        "y2": {"field": "v2"}
      }
    },
    {
      "data": {"values": [{"d":"2023-04-28","v":26257,"d2":"2023-05-11","v2":29000}]},
      "mark": {"type": "rule", "color": "#f0641e", "strokeWidth": 5, "strokeDash": [6, 4]},
      "encoding": {
        "x": {"field": "d", "type": "temporal", "axis": null},
        "x2": {"field": "d2"},
        "y": {"field": "v", "type": "quantitative", "axis": null, "scale": {"domain": [20000, 30000], "nice": false, "zero": false}},
        "y2": {"field": "v2"}
      }
    },
    {
      "data": {"values": [{"d":"2022-06-08","v":26714},{"d":"2022-11-25","v":27504}]},
      "mark": {"type": "point", "shape": "triangle-up", "filled": true, "color": "#e0282a", "size": 130, "opacity": 1},
      "encoding": {
        "x": {"field": "d", "type": "temporal", "axis": null},
        "y": {"field": "v", "type": "quantitative", "axis": null, "scale": {"domain": [20000, 30000], "nice": false, "zero": false}}
      }
    },
    {
      "data": {"values": [{"d":"2022-08-16","v":28190},{"d":"2023-03-08","v":27838}]},
      "mark": {"type": "point", "shape": "triangle-up", "filled": true, "color": "#e0282a", "size": 110, "angle": 9, "opacity": 1},
      "encoding": {
        "x": {"field": "d", "type": "temporal", "axis": null},
        "y": {"field": "v", "type": "quantitative", "axis": null, "scale": {"domain": [20000, 30000], "nice": false, "zero": false}}
      }
    },
    {
      "data": {"values": [{"d":"2023-05-11","v":29000}]},
      "mark": {"type": "point", "shape": "triangle-up", "filled": true, "color": "#f0641e", "size": 230, "angle": 9, "opacity": 1},
      "encoding": {
        "x": {"field": "d", "type": "temporal", "axis": null},
        "y": {"field": "v", "type": "quantitative", "axis": null, "scale": {"domain": [20000, 30000], "nice": false, "zero": false}}
      }
    },
    {
      "data": {"values": [
        {"d":"2022-03-24","v":24692,"t":"3/9\n24681"},
        {"d":"2022-06-10","v":29192,"t":"6/9\n28389"},
        {"d":"2022-08-20","v":30070,"t":"8/17\n29222"},
        {"d":"2022-06-18","v":25220,"t":"6/20\n25520"},
        {"d":"2022-10-09","v":25343,"t":"10/3\n25621"},
        {"d":"2022-11-26","v":29367,"t":"11/24\n28502"},
        {"d":"2023-01-06","v":25431,"t":"1/4\n25661"},
        {"d":"2023-03-08","v":29543,"t":"3/9\n28734"},
        {"d":"2023-03-12","v":26327,"t":"3/16\n26632"}
      ]},
      "mark": {"type": "text", "fontSize": 29, "color": "#111", "lineBreak": "\n", "lineHeight": 31, "align": "center", "baseline": "middle"},
      "encoding": {
        "x": {"field": "d", "type": "temporal", "axis": null},
        "y": {"field": "v", "type": "quantitative", "axis": null, "scale": {"domain": [20000, 30000], "nice": false, "zero": false}},
        "text": {"field": "t"}
      }
    },
    {
      "data": {"values": [
        {"d":"2022-06-08","v":23445,"t":"6/7\n112.3"},
        {"d":"2022-07-31","v":25290,"t":"7/26\n143.8"},
        {"d":"2022-11-27","v":24288,"t":"11/22\n124.5"},
        {"d":"2023-02-18","v":24728,"t":"2/10\n137.2"},
        {"d":"2023-04-28","v":25782,"t":"4/25\n146.5"},
        {"d":"2023-04-16","v":21933,"t":"4/14\n100.9"}
      ]},
      "mark": {"type": "text", "fontSize": 29, "color": "#e8501e", "lineBreak": "\n", "lineHeight": 30, "align": "center", "baseline": "middle"},
      "encoding": {
        "x": {"field": "d", "type": "temporal", "axis": null},
        "y": {"field": "v", "type": "quantitative", "axis": null, "scale": {"domain": [20000, 30000], "nice": false, "zero": false}},
        "text": {"field": "t"}
      }
    },
    {
      "data": {"values": [{"d":"2022-09-29","v":24113,"t":"騰落レシオ"}]},
      "mark": {"type": "text", "fontSize": 28, "color": "#5a96d2", "align": "center", "baseline": "middle"},
      "encoding": {
        "x": {"field": "d", "type": "temporal", "axis": null},
        "y": {"field": "v", "type": "quantitative", "axis": null, "scale": {"domain": [20000, 30000], "nice": false, "zero": false}},
        "text": {"field": "t"}
      }
    },
    {
      "data": {"values": [{"d":"2022-09-29","v":23445,"t":"[25日]"},{"d":"2022-10-01","v":20457,"t":"（日次、右目盛）"}]},
      "mark": {"type": "text", "fontSize": 24, "color": "#5a96d2", "align": "center", "baseline": "middle"},
      "encoding": {
        "x": {"field": "d", "type": "temporal", "axis": null},
        "y": {"field": "v", "type": "quantitative", "axis": null, "scale": {"domain": [20000, 30000], "nice": false, "zero": false}},
        "text": {"field": "t"}
      }
    },
    {
      "data": {"values": [{"d":"2022-04-29","v":30211,"t":"2021年9月以降の傾向線"}]},
      "mark": {"type": "text", "fontSize": 31, "color": "#e8501e", "angle": 6.5, "align": "center", "baseline": "middle"},
      "encoding": {
        "x": {"field": "d", "type": "temporal", "axis": null},
        "y": {"field": "v", "type": "quantitative", "axis": null, "scale": {"domain": [20000, 30000], "nice": false, "zero": false}},
        "text": {"field": "t"}
      }
    },
    {
      "data": {"values": [{"d":"2022-10-04","v":30474,"t":"日経平均"}]},
      "mark": {"type": "text", "fontSize": 31, "color": "#111", "align": "left", "baseline": "middle"},
      "encoding": {
        "x": {"field": "d", "type": "temporal", "axis": null},
        "y": {"field": "v", "type": "quantitative", "axis": null, "scale": {"domain": [20000, 30000], "nice": false, "zero": false}},
        "text": {"field": "t"}
      }
    },
    {
      "data": {"values": [{"d":"2022-12-09","v":30474,"t":"（日足、左目盛）"}]},
      "mark": {"type": "text", "fontSize": 24, "color": "#111", "align": "left", "baseline": "middle"},
      "encoding": {
        "x": {"field": "d", "type": "temporal", "axis": null},
        "y": {"field": "v", "type": "quantitative", "axis": null, "scale": {"domain": [20000, 30000], "nice": false, "zero": false}},
        "text": {"field": "t"}
      }
    },
    {
      "data": {"values": [{"d":"2022-02-03","v":31933,"t":"―日経平均株価（日足）と騰落レシオ（25日）―"}]},
      "mark": {"type": "text", "fontSize": 36.5, "fontWeight": "bold", "font": "Noto Sans CJK JP", "color": "#333", "align": "left", "baseline": "middle"},
      "encoding": {
        "x": {"field": "d", "type": "temporal", "axis": null},
        "y": {"field": "v", "type": "quantitative", "axis": null, "scale": {"domain": [20000, 30000], "nice": false, "zero": false}},
        "text": {"field": "t"}
      }
    }
  ]
}
